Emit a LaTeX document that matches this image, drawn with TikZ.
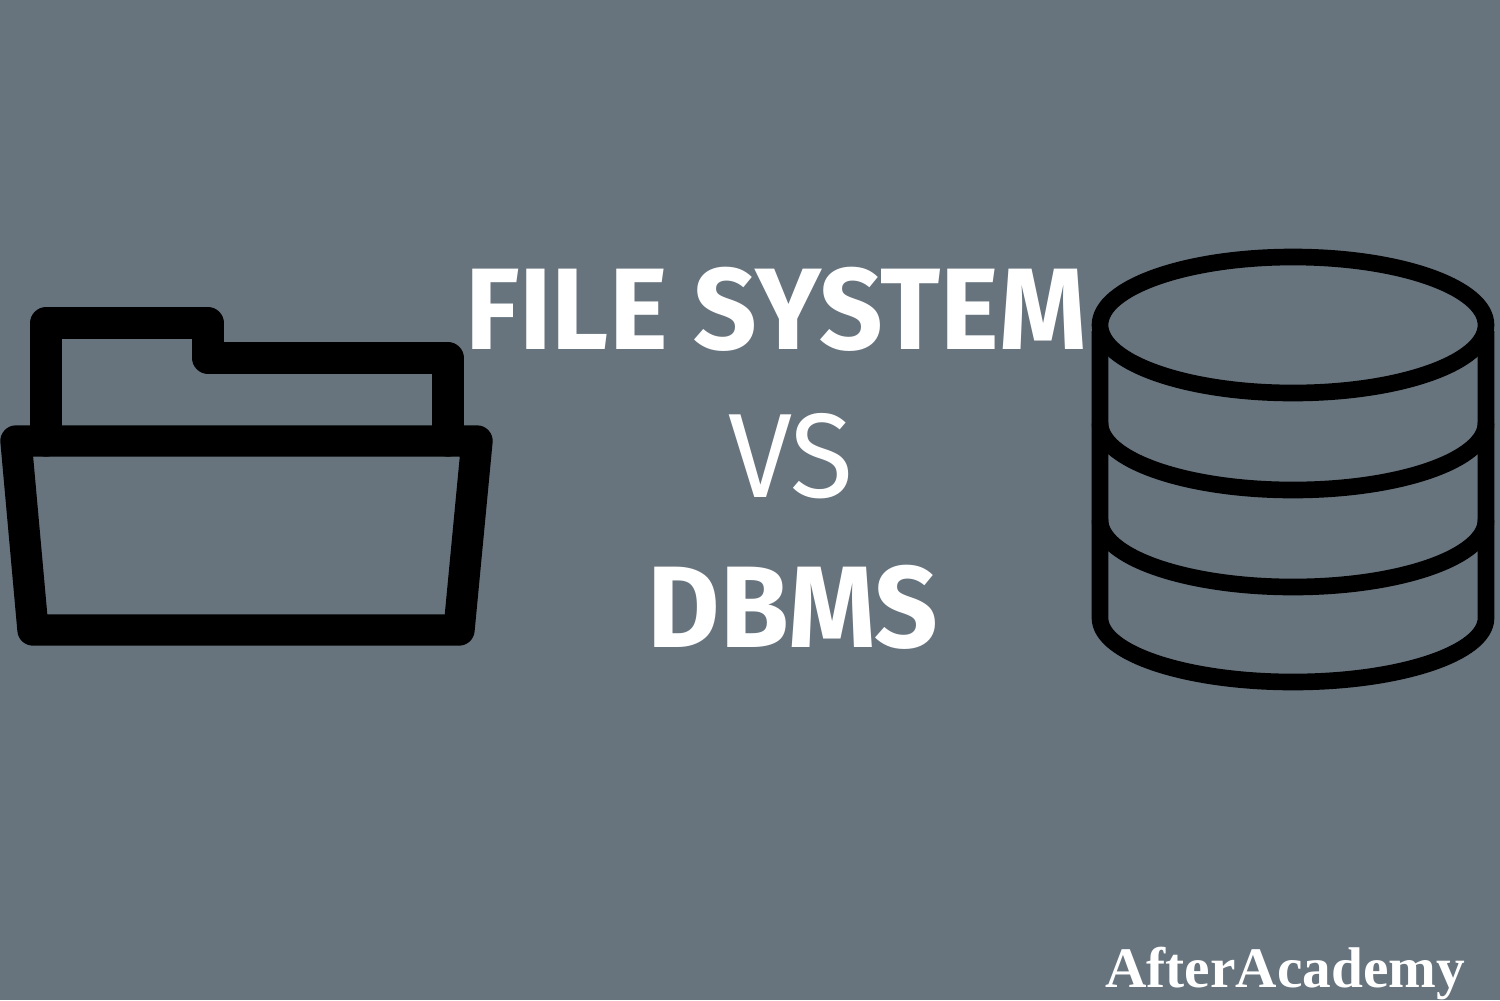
\documentclass[tikz,border=0pt]{standalone}
\usepackage{fontspec}
\setmainfont{Fira Sans}[FakeStretch=0.96]
\newfontfamily\logofont{Liberation Serif}
\definecolor{bgc}{HTML}{67747E}
\tikzset{thick icon/.style={draw=black,line width=23.5pt,line join=round,line cap=round},
 db/.style={draw=black,line width=12.5pt,line join=round},
 title/.style={text=white,font=\bfseries\fontsize{87}{87}\selectfont,anchor=base,inner sep=0pt},
}
\begin{document}
\begin{tikzpicture}[x=1pt,y=-1pt,xscale=0.75,yscale=0.75]
\path[fill=bgc,use as bounding box] (0,0) rectangle (1500,1000);
% folder
\draw[thick icon] (46,441) -- (46,323) -- (208,323) -- (208,358) -- (448,358) -- (448,441);
\draw[thick icon] (16,441) -- (477,441) -- (459,630) -- (33,630) -- cycle;
% database
\draw[db] (1100,325) arc[x radius=193,y radius=68,start angle=180,end angle=-180] -- cycle;
\draw[db] (1100,331) -- (1100,618) arc[x radius=193,y radius=64,start angle=180,end angle=0] -- (1486,331);
\draw[db] (1100,423) arc[x radius=193,y radius=67,start angle=180,end angle=0];
\draw[db] (1100,520) arc[x radius=193,y radius=67,start angle=180,end angle=0];
\node[title] (t1) at (776,349) {FILE SYSTEM};
\node[title,font=\fontsize{90}{90}\selectfont\fontseries{l}\selectfont] (t2) at (791,497) {VS};
\node[title] (t3) at (793,647) {DBMS};
\node[text=white,inner sep=0pt,anchor=base,font=\logofont\bfseries\fontsize{43}{43}\selectfont] (t4) at (1285,987) {AfterAcademy};
\end{tikzpicture}
\end{document}
